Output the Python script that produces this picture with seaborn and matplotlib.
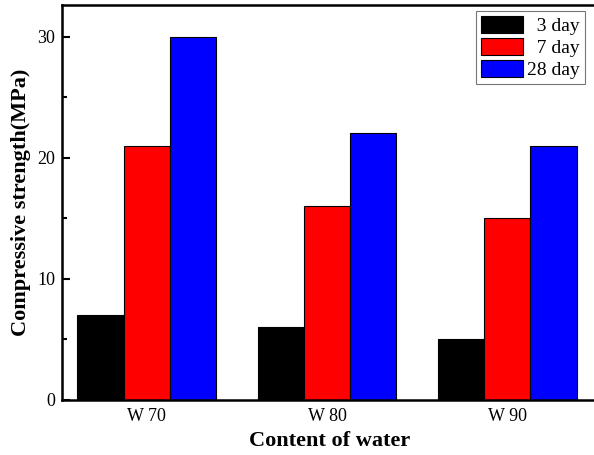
import matplotlib
matplotlib.use("Agg")
import matplotlib.pyplot as plt
import seaborn as sns
import pandas as pd
from matplotlib.ticker import MultipleLocator

categories = ["W 70", "W 80", "W 90"]
ages = ["3 day", "7 day", "28 day"]
day3 = [7, 6, 5]
day7 = [21, 16, 15]
day28 = [30, 22, 21]
colors = ["#000000", "#ff0000", "#0000ff"]

rows = []
for age, vals in zip(ages, [day3, day7, day28]):
    for c, v in zip(categories, vals):
        rows.append({"Content of water": c, "Age": age, "Strength": v})
df = pd.DataFrame(rows)

sns.set_style("ticks", {"axes.edgecolor": "black", "text.color": "black",
                        "xtick.color": "black", "ytick.color": "black",
                        "axes.labelcolor": "black"})
plt.rcParams["font.family"] = ["Liberation Serif", "DejaVu Serif"]

fig = plt.figure(figsize=(5.94, 4.55), dpi=100)
W, H = 594, 455
left_px, right_px, top_px, bottom_px = 62, 597.5, 5, 400
ax = fig.add_axes([left_px / W, (H - bottom_px) / H, (right_px - left_px) / W, (bottom_px - top_px) / H])

sns.barplot(data=df, x="Content of water", y="Strength", hue="Age",
            palette=colors, width=0.77, edgecolor="black", linewidth=0.8,
            saturation=1, ax=ax, legend=True)

ax.set_xlim(-0.47, 2.5)
ax.set_ylim(0, 32.6)
ax.yaxis.set_major_locator(MultipleLocator(10))
ax.yaxis.set_minor_locator(MultipleLocator(5))
ax.tick_params(axis="both", which="both", direction="in", labelsize=13)
ax.tick_params(axis="y", which="major", length=6, width=1.5)
ax.tick_params(axis="y", which="minor", length=3.5, width=1.5)
ax.tick_params(axis="x", which="major", length=5, width=1.5, pad=6)
ax.tick_params(axis="y", pad=5)
for s in ["left", "bottom", "top"]:
    ax.spines[s].set_linewidth(1.8)
    ax.spines[s].set_visible(True)
ax.spines["right"].set_visible(False)

ax.set_xlabel("Content of water", fontsize=16, fontweight="bold", labelpad=4)
ax.set_ylabel("Compressive strength(MPa)", fontsize=16, fontweight="bold", labelpad=4)

handles, labels = ax.get_legend_handles_labels()
leg = ax.legend(handles, ["  3 day", "  7 day", "28 day"], loc="upper right",
                bbox_to_anchor=((585 - left_px) / (right_px - left_px), (400 - 11) / 395),
                fontsize=14, frameon=True, fancybox=False, handlelength=2.15,
                handleheight=0.95, handletextpad=0.25, borderpad=0.25, labelspacing=0.15,
                borderaxespad=0, edgecolor="#555555")
leg.get_frame().set_linewidth(0.8)

fig.savefig("out.png", dpi=100)
